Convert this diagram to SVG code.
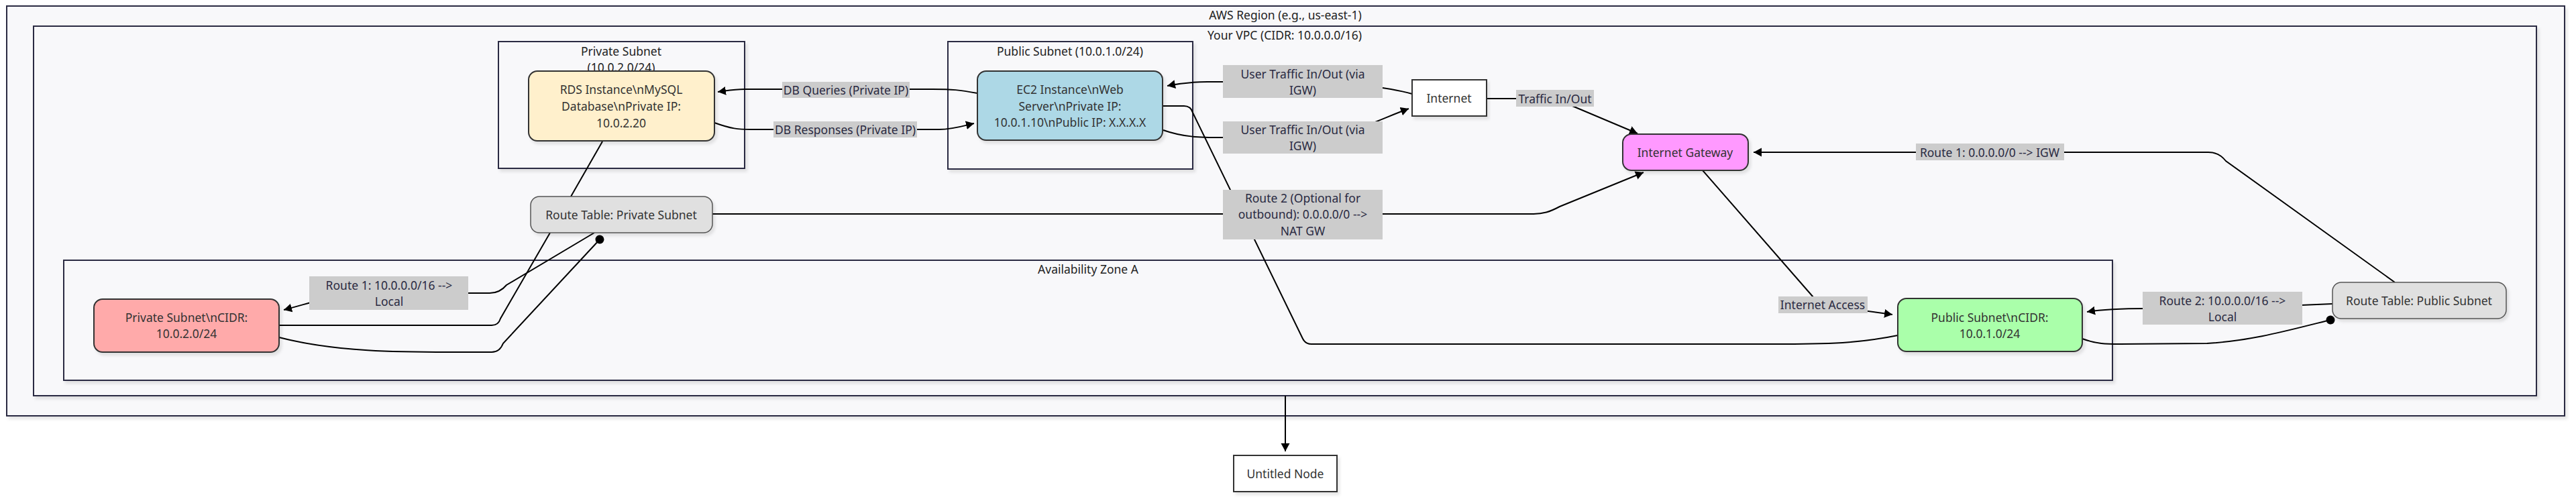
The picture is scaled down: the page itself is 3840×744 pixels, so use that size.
<svg xmlns="http://www.w3.org/2000/svg" width="3840" height="744" viewBox="0 0 3840 744">
<defs>
<filter id="sh" x="-5%" y="-5%" width="110%" height="120%">
<feDropShadow dx="3" dy="4" stdDeviation="2" flood-color="#000" flood-opacity="0.10"/>
</filter>
<marker id="arr" markerUnits="userSpaceOnUse" markerWidth="14" markerHeight="14" refX="12" refY="6.5" orient="auto">
<path d="M0,0 L12,6.5 L0,13 z" fill="#000"/>
</marker>
<marker id="dot" markerUnits="userSpaceOnUse" markerWidth="16" markerHeight="16" refX="8" refY="8" orient="auto">
<circle cx="8" cy="8" r="6.5" fill="#000"/>
</marker>
</defs>
<style>
text{font-family:"Noto Sans","Liberation Sans",sans-serif;font-size:17.5px;fill:#333;text-anchor:middle;dominant-baseline:central}
.cl{fill:#f8f8fa;stroke:#2a2a42;stroke-width:2;filter:url(#sh)}
.ct{fill:#222}
.nd{stroke:#333;stroke-width:2;filter:url(#sh)}
.rt{fill:#e0e0e0;stroke:#555;stroke-width:1.5;filter:url(#sh)}
.e{fill:none;stroke:#000;stroke-width:2}
.lb{fill:#cccccc}
.lt{fill:#2a2a42}
</style>
<rect width="3840" height="744" fill="#fff"/>

<g id="cluster-region">
<rect class="cl" x="10" y="9" width="3813" height="611"/>
<text class="ct" x="1916" y="22">AWS Region (e.g., us-east-1)</text>
</g>
<g id="cluster-vpc">
<rect class="cl" x="50" y="39" width="3731" height="551"/>
<text class="ct" x="1915" y="52">Your VPC (CIDR: 10.0.0.0/16)</text>
</g>
<g id="cluster-private-subnet">
<rect class="cl" x="743" y="62" width="367" height="189"/>
<text class="ct" x="926" y="76">Private Subnet</text>
<text class="ct" x="926" y="100">(10.0.2.0/24)</text>
</g>
<g id="cluster-public-subnet">
<rect class="cl" x="1413" y="62" width="365" height="190"/>
<text class="ct" x="1595" y="76">Public Subnet (10.0.1.0/24)</text>
</g>
<g id="cluster-az">
<rect class="cl" x="95" y="388" width="3054" height="179"/>
<text class="ct" x="1622" y="401">Availability Zone A</text>
</g>

<g id="connectors">
<path class="e" d="M1457,139 C1430,134 1420,133 1390,133 L1110,133 C1095,133 1085,135 1070,137" marker-end="url(#arr)"/>
<path class="e" d="M1065,183 C1090,192 1100,193 1120,193 L1400,193 C1420,193 1435,188 1452,184" marker-end="url(#arr)"/>
<path class="e" d="M2105,140 C2070,130 2000,122 1942,122 L1800,122 C1775,122 1760,124 1740,128" marker-end="url(#arr)"/>
<path class="e" d="M1734,194 C1765,205 1790,205 1823,205 L1942,205 C2010,205 2050,180 2100,162" marker-end="url(#arr)"/>
<path class="e" d="M2216,147 L2300,147 Q2317,147 2332,153 L2441,199" marker-end="url(#arr)"/>
<path class="e" d="M1062,319 L2285,319 C2300,319 2310,316 2325,308 L2450,257" marker-end="url(#arr)"/>
<path class="e" d="M2538,254 L2703,443 Q2712,453 2725,456 L2821,469" marker-end="url(#arr)"/>
<path class="e" d="M3570,421 L3318,240 Q3308,227 3292,227 L2614,227" marker-end="url(#arr)"/>
<path class="e" d="M3477,453 L3313,460 L3200,460 C3150,460 3130,462 3111,465" marker-end="url(#arr)"/>
<path class="e" d="M3104,505 C3125,513 3140,513 3160,513 L3290,512 C3360,508 3420,490 3474,477" marker-end="url(#dot)"/>
<path class="e" d="M1734,158 L1765,158 Q1775,158 1778,168 L1942,505 Q1946,513 1955,513 L2660,513 C2740,513 2780,510 2829,500"/>
<path class="e" d="M886,347 L755,425 Q745,437 730,437 L560,437 C500,437 470,450 423,462" marker-end="url(#arr)"/>
<path class="e" d="M416,485 L733,485 Q743,485 746,475 L820,347"/>
<path class="e" d="M416,503 C500,525 600,525 669,525 L733,525 Q745,525 750,512 L894,357" marker-end="url(#dot)"/>
<path class="e" d="M898,211 L851,293"/>
<path class="e" d="M1916,590 L1916,673" marker-end="url(#arr)"/>

<rect class="lb" x="1166" y="122" width="190" height="24"/>
<text class="lt" x="1261" y="134">DB Queries (Private IP)</text>
<rect class="lb" x="1153" y="181" width="214" height="24"/>
<text class="lt" x="1260" y="193">DB Responses (Private IP)</text>
<rect class="lb" x="1823" y="97" width="238" height="49"/>
<text class="lt" x="1942" y="110">User Traffic In/Out (via</text>
<text class="lt" x="1942" y="134">IGW)</text>
<rect class="lb" x="1823" y="181" width="238" height="48"/>
<text class="lt" x="1942" y="193">User Traffic In/Out (via</text>
<text class="lt" x="1942" y="217">IGW)</text>
<rect class="lb" x="2260" y="134" width="116" height="25"/>
<text class="lt" x="2318" y="147">Traffic In/Out</text>
<rect class="lb" x="1823" y="283" width="238" height="74"/>
<text class="lt" x="1942" y="295">Route 2 (Optional for</text>
<text class="lt" x="1942" y="319">outbound): 0.0.0.0/0 --&gt;</text>
<text class="lt" x="1942" y="344">NAT GW</text>
<rect class="lb" x="2856" y="214" width="221" height="25"/>
<text class="lt" x="2966" y="227">Route 1: 0.0.0.0/0 --&gt; IGW</text>
<rect class="lb" x="2651" y="442" width="133" height="25"/>
<text class="lt" x="2717" y="454">Internet Access</text>
<rect class="lb" x="3194" y="435" width="238" height="49"/>
<text class="lt" x="3313" y="448">Route 2: 10.0.0.0/16 --&gt;</text>
<text class="lt" x="3313" y="472">Local</text>
<rect class="lb" x="461" y="412" width="237" height="50"/>
<text class="lt" x="580" y="425">Route 1: 10.0.0.0/16 --&gt;</text>
<text class="lt" x="580" y="449">Local</text>
</g>

<g id="node-rds">
<rect class="nd" x="788" y="106" width="277" height="104" rx="13" fill="#fff0cc"/>
<text x="926" y="133">RDS Instance\nMySQL</text>
<text x="926" y="158">Database\nPrivate IP:</text>
<text x="926" y="183">10.0.2.20</text>
</g>
<g id="node-ec2">
<rect class="nd" x="1457" y="106" width="276" height="103" rx="13" fill="#add8e6"/>
<text x="1595" y="133">EC2 Instance\nWeb</text>
<text x="1595" y="158">Server\nPrivate IP:</text>
<text x="1595" y="182">10.0.1.10\nPublic IP: X.X.X.X</text>
</g>
<g id="node-internet">
<rect class="nd" x="2105" y="119" width="111" height="54" fill="#fff"/>
<text x="2160" y="146">Internet</text>
</g>
<g id="node-igw">
<rect class="nd" x="2419" y="200" width="187" height="54" rx="13" fill="#ff99ff"/>
<text x="2512" y="227">Internet Gateway</text>
</g>
<g id="node-rt-private">
<rect class="rt" x="791" y="293" width="271" height="54" rx="13"/>
<text x="926" y="320">Route Table: Private Subnet</text>
</g>
<g id="node-private-subnet">
<rect class="nd" x="140" y="446" width="276" height="79" rx="13" fill="#ffaaaa"/>
<text x="278" y="473">Private Subnet\nCIDR:</text>
<text x="278" y="497">10.0.2.0/24</text>
</g>
<g id="node-public-subnet">
<rect class="nd" x="2829" y="445" width="275" height="79" rx="13" fill="#aaffaa"/>
<text x="2966" y="473">Public Subnet\nCIDR:</text>
<text x="2966" y="497">10.0.1.0/24</text>
</g>
<g id="node-rt-public">
<rect class="rt" x="3477" y="421" width="259" height="54" rx="13"/>
<text x="3606" y="448">Route Table: Public Subnet</text>
</g>
<g id="node-untitled">
<rect class="nd" x="1839" y="679" width="154" height="54" fill="#fff" stroke="#2a2a42"/>
<text x="1916" y="706">Untitled Node</text>
</g>
</svg>
